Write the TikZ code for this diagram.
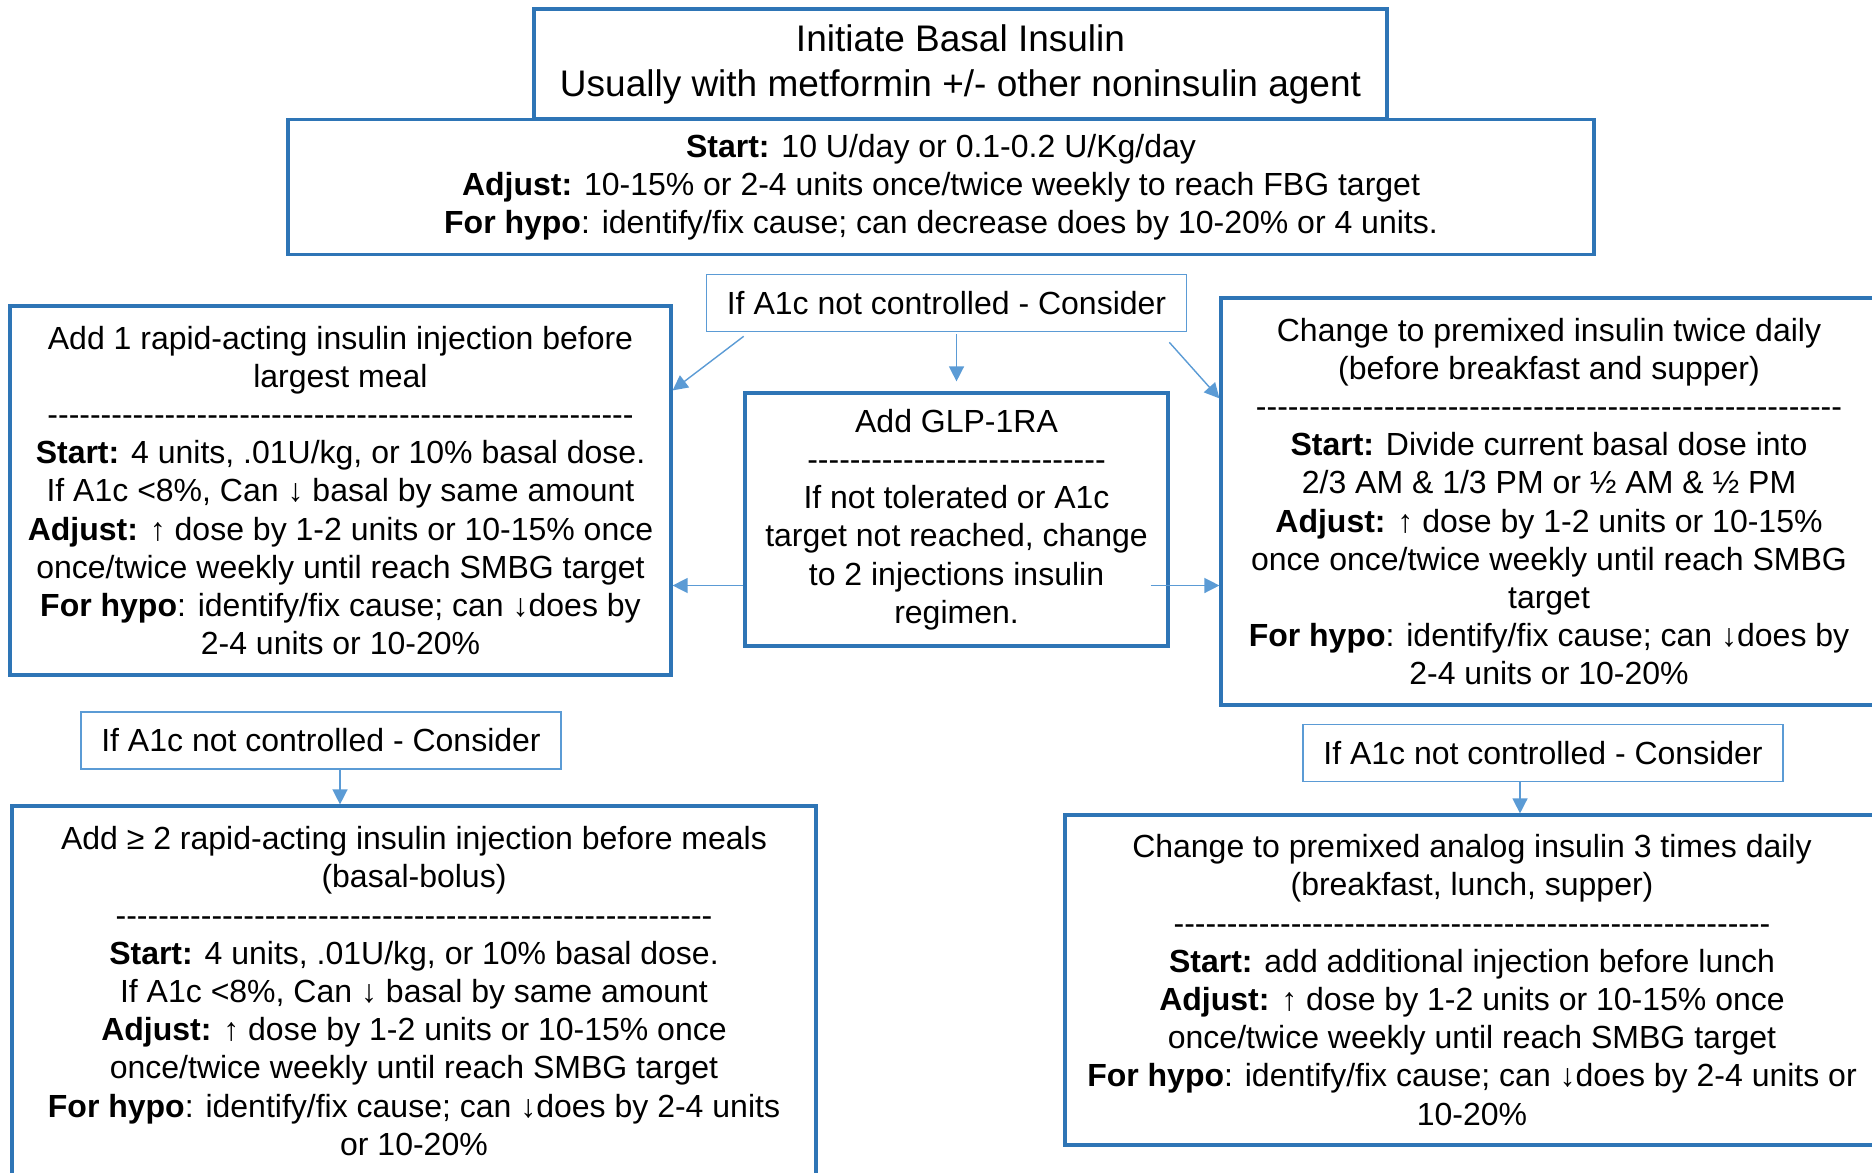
\documentclass[tikz,border=0pt]{standalone}
\usepackage{fontspec}
\setmainfont{Liberation Sans}[Ligatures=TeXOff]
\usetikzlibrary{arrows.meta, positioning}
\definecolor{boxblue}{HTML}{2E75B6}
\definecolor{lineblue}{HTML}{5B9BD5}
\newcommand{\dashrow}[1]{\foreach \k in {1,...,#1}{-}}

\begin{document}
\begin{tikzpicture}[x=0.5pt,y=-0.5pt,
 link/.style={draw=lineblue, line width=0.7pt, -{Triangle[length=7.5pt,width=7.5pt]}},
 main box/.style={draw=boxblue, line width=1.6pt, align=center, inner sep=0pt,
   font=\fontsize{16}{19.1}\selectfont},
 ask box/.style={draw=lineblue, line width=0.8pt, align=center, inner sep=0pt,
   minimum width=240pt, minimum height=28.5pt, font=\fontsize{16}{19.1}\selectfont}]

  \useasboundingbox (0,0) rectangle (1872,1172);

  \node[main box, minimum width=653pt, minimum height=67.5pt] (start) at (941,187)
   {\textbf{Start:} 10 U/day or 0.1-0.2 U/Kg/day\\
    \textbf{Adjust:} 10-15\% or 2-4 units once/twice weekly to reach FBG target\\
    \textbf{For hypo}: identify/fix cause; can decrease does by 10-20\% or 4 units.};
  \node[main box, minimum width=426.5pt, minimum height=55pt,
   font=\fontsize{18.5}{22.5}\selectfont] (init) at (960.5,64)
   {Initiate Basal Insulin\\Usually with metformin +/- other noninsulin agent};

  \node[ask box] (consider) at (946.5,303) {If A1c not controlled - Consider};

  \node[main box, minimum width=330.5pt, minimum height=184.5pt] (rapid) at (340.5,490.5)
   {Add 1 rapid-acting insulin injection before\\largest meal\\\dashrow{55}\\
    \textbf{Start:} 4 units, .01U/kg, or 10\% basal dose.\\
    If A1c <8\%, Can ↓ basal by same amount\\
    \textbf{Adjust:} ↑ dose by 1-2 units or 10-15\% once\\
    once/twice weekly until reach SMBG target\\
    \textbf{For hypo}: identify/fix cause; can ↓does by\\
    2-4 units or 10-20\%};

  \node[main box, minimum width=211.5pt, minimum height=126.5pt] (glp) at (956.5,519.5)
   {Add GLP-1RA\\\dashrow{28}\\If not tolerated or A1c\\target not reached, change\\
    to 2 injections insulin\\regimen.};

  \node[main box, minimum width=328pt, minimum height=203.5pt] (premix) at (1549,501.5)
   {Change to premixed insulin twice daily\\(before breakfast and supper)\\\dashrow{55}\\
    \textbf{Start:} Divide current basal dose into\\
    2/3 AM \& 1/3 PM or ½ AM \& ½ PM\\
    \textbf{Adjust:} ↑ dose by 1-2 units or 10-15\%\\
    once once/twice weekly until reach SMBG\\target\\
    \textbf{For hypo}: identify/fix cause; can ↓does by\\
    2-4 units or 10-20\%};

  \node[ask box] (considerL) at (321,740.5) {If A1c not controlled - Consider};
  \node[ask box] (considerR) at (1543,753) {If A1c not controlled - Consider};

  \node[main box, minimum width=402pt, minimum height=185pt] (bolus) at (414,991)
   {Add ≥ 2 rapid-acting insulin injection before meals\\(basal-bolus)\\\dashrow{56}\\
    \textbf{Start:} 4 units, .01U/kg, or 10\% basal dose.\\
    If A1c <8\%, Can ↓ basal by same amount\\
    \textbf{Adjust:} ↑ dose by 1-2 units or 10-15\% once\\
    once/twice weekly until reach SMBG target\\
    \textbf{For hypo}: identify/fix cause; can ↓does by 2-4 units\\
    or 10-20\%};

  \node[main box, minimum width=407pt, minimum height=165pt] (analog) at (1472,980)
   {Change to premixed analog insulin 3 times daily\\(breakfast, lunch, supper)\\\dashrow{56}\\
    \textbf{Start:} add additional injection before lunch\\
    \textbf{Adjust:} ↑ dose by 1-2 units or 10-15\% once\\
    once/twice weekly until reach SMBG target\\
    \textbf{For hypo}: identify/fix cause; can ↓does by 2-4 units or\\
    10-20\%};

  % arrows out of the first check
  \draw[link] ([xshift=19pt,yshift=-2pt]consider.south west) -- ([yshift=-43pt]rapid.north east);
  \draw[link] ([yshift=-1pt]consider.south -| glp.north) -- ([yshift=5pt]glp.north);
  \draw[link] ([xshift=-9pt,yshift=-5pt]consider.south east) -- ([yshift=-51pt]premix.north west);

  \draw[link] ([yshift=-33pt]glp.west) -- ([yshift=-33pt]glp.west -| rapid.east);
  \draw[link] ([xshift=-9.5pt,yshift=-33pt]glp.east) -- ([yshift=-33pt]glp.east -| premix.west);

  \draw[link] ([xshift=9.5pt]considerL.south) -- ([xshift=9.5pt]considerL.south |- bolus.north);
  \draw[link] ([xshift=-11.5pt]considerR.south) -- ([xshift=-11.5pt]considerR.south |- analog.north);
\end{tikzpicture}
\end{document}
